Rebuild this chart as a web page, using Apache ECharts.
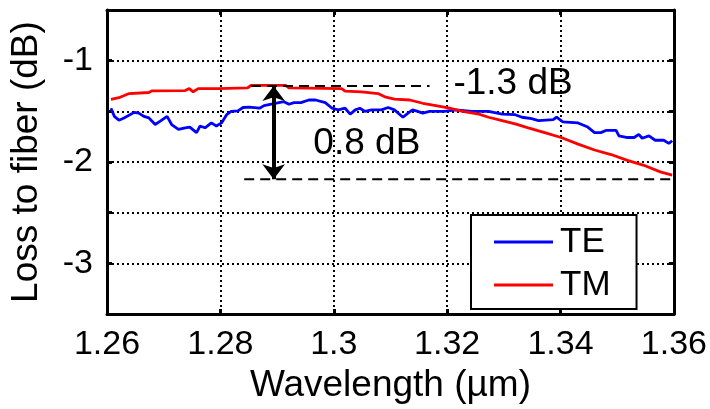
<!DOCTYPE html>
<html><head><meta charset="utf-8">
<script src="https://cdn.jsdelivr.net/npm/echarts@6/dist/echarts.min.js"></script>
<style>html,body{margin:0;padding:0;background:#fff}#c{width:710px;height:409px}</style>
</head><body><div id="c"></div>
<script>
var xTicks = [1.26, 1.28, 1.30, 1.32, 1.34, 1.36];
var yTickLabels = [-1, -2, -3];
var teWavelength = [1.2607,1.2613,1.2621,1.2630,1.2648,1.2656,1.2665,1.2674,1.2685,1.2694,1.2706,1.2714,1.2726,1.2738,1.2746,1.2758,1.2764,1.2773,1.2784,1.2793,1.2802,1.2811,1.2819,1.2831,1.2840,1.2851,1.2869,1.2877,1.2892,1.2912,1.2921,1.2930,1.2942,1.2956,1.2968,1.2985,1.2997,1.3008,1.3020,1.3029,1.3038,1.3046,1.3055,1.3067,1.3084,1.3096,1.3107,1.3122,1.3131,1.3139,1.3148,1.3157,1.3169,1.3195,1.3215,1.3244,1.3273,1.3297,1.3320,1.3332,1.3349,1.3361,1.3387,1.3393,1.3404,1.3431,1.3448,1.3460,1.3471,1.3480,1.3498,1.3503,1.3518,1.3530,1.3538,1.3544,1.3556,1.3567,1.3582,1.3591,1.3597];
var teLoss = [-1.469,-1.549,-1.587,-1.565,-1.510,-1.517,-1.549,-1.565,-1.630,-1.597,-1.549,-1.630,-1.678,-1.662,-1.655,-1.710,-1.645,-1.662,-1.614,-1.645,-1.614,-1.533,-1.500,-1.495,-1.462,-1.459,-1.469,-1.443,-1.427,-1.404,-1.430,-1.414,-1.414,-1.388,-1.388,-1.414,-1.469,-1.485,-1.469,-1.527,-1.485,-1.469,-1.500,-1.485,-1.485,-1.462,-1.485,-1.558,-1.517,-1.485,-1.500,-1.517,-1.500,-1.500,-1.485,-1.500,-1.500,-1.527,-1.533,-1.558,-1.572,-1.591,-1.582,-1.558,-1.604,-1.614,-1.655,-1.710,-1.710,-1.688,-1.688,-1.742,-1.758,-1.758,-1.727,-1.765,-1.742,-1.785,-1.785,-1.816,-1.790];
var tmWavelength = [1.2607,1.2621,1.2639,1.2674,1.2679,1.2738,1.2745,1.2752,1.2761,1.2796,1.2848,1.2854,1.2915,1.2921,1.3014,1.3020,1.3049,1.3078,1.3090,1.3107,1.3134,1.3157,1.3180,1.3204,1.3227,1.3256,1.3273,1.3297,1.3320,1.3343,1.3372,1.3401,1.3431,1.3460,1.3489,1.3518,1.3547,1.3576,1.3597];
var tmLoss = [-1.382,-1.365,-1.324,-1.314,-1.298,-1.295,-1.275,-1.307,-1.275,-1.275,-1.269,-1.243,-1.243,-1.269,-1.275,-1.301,-1.307,-1.324,-1.356,-1.379,-1.388,-1.420,-1.443,-1.469,-1.500,-1.527,-1.558,-1.591,-1.623,-1.662,-1.710,-1.758,-1.823,-1.881,-1.926,-1.984,-2.032,-2.097,-2.128];
var peakLevel = -1.25;
var peakRange = [1.2854, 1.3169];
var minLevel = -2.17;
var minRange = [1.2842, 1.36];
var arrowX = 1.2894;
var peakText = '-1.3 dB';
var peakTextPos = [1.3211, -1.225];
var diffText = '0.8 dB';
var diffTextPos = [1.2964, -1.82];

var FONT = "'Liberation Sans', Arial, sans-serif";
function zip(a, b) { return a.map(function (v, i) { return [v, b[i]]; }); }
var chart = echarts.init(document.getElementById('c'), null, {renderer: 'canvas'});
var gridLine = {show: true, lineStyle: {color: '#000', width: 2, type: [2, 3]}};
var axisLineStyle = {show: true, onZero: false, lineStyle: {color: '#000', width: 3}};
var tick = {show: true, inside: true, length: 5, lineStyle: {color: '#000', width: 3}};
chart.setOption({
  animation: false,
  grid: {left: 104.5, right: 33.5, top: 10, bottom: 91.5, containLabel: false},
  xAxis: [{
    type: 'value', min: xTicks[0], max: xTicks[xTicks.length - 1], interval: 0.02,
    name: 'Wavelength (µm)', nameLocation: 'middle', nameGap: 45,
    nameTextStyle: {color: '#000', fontSize: 37, fontFamily: FONT},
    axisLine: axisLineStyle, axisTick: tick, splitLine: gridLine,
    axisLabel: {color: '#000', fontSize: 34, fontFamily: FONT, margin: 14,
      formatter: function (v) { return String(parseFloat(v.toFixed(2))); }}
  }, {
    type: 'value', position: 'top', min: xTicks[0], max: xTicks[xTicks.length - 1], interval: 0.02,
    axisLine: axisLineStyle, axisTick: tick, splitLine: {show: false}, axisLabel: {show: false}
  }],
  yAxis: [{
    type: 'value', min: -3.5, max: -0.5, interval: 0.5,
    name: 'Loss to fiber (dB)', nameLocation: 'middle', nameGap: 62,
    nameTextStyle: {color: '#000', fontSize: 37, fontFamily: FONT},
    axisLine: axisLineStyle, axisTick: tick, splitLine: gridLine,
    axisLabel: {color: '#000', fontSize: 34, fontFamily: FONT, margin: 14,
      formatter: function (v) { return yTickLabels.indexOf(Math.round(v * 100) / 100) >= 0 ? String(v) : ''; }}
  }, {
    type: 'value', position: 'right', min: -3.5, max: -0.5, interval: 0.5,
    axisLine: axisLineStyle, axisTick: tick, splitLine: {show: false}, axisLabel: {show: false}
  }],
  legend: {
    data: ['TE', 'TM'], orient: 'vertical', left: 471, top: 215,
    backgroundColor: '#fff', borderColor: '#000', borderWidth: 2,
    padding: [7, 26, 4, 23], itemWidth: 59, itemHeight: 3, itemGap: 3, icon: 'rect',
    textStyle: {color: '#000', fontSize: 35, fontFamily: FONT, lineHeight: 40, padding: [0, 0, 0, 2]}
  },
  series: [{
    name: 'TE', type: 'line', data: zip(teWavelength, teLoss), symbol: 'none',
    lineStyle: {color: '#0000ff', width: 2.8}, itemStyle: {color: '#0000ff'}, z: 3
  }, {
    name: 'TM', type: 'line', data: zip(tmWavelength, tmLoss), symbol: 'none',
    lineStyle: {color: '#ff0000', width: 2.8}, itemStyle: {color: '#ff0000'}, z: 4
  }, {
    name: 'peak', type: 'line', data: [[peakRange[0], peakLevel], [peakRange[1], peakLevel]], symbol: 'none',
    lineStyle: {color: '#000', width: 2, type: [10, 6]}, z: 5
  }, {
    name: 'min', type: 'line', data: [[minRange[0], minLevel], [minRange[1], minLevel]], symbol: 'none',
    lineStyle: {color: '#000', width: 2, type: [10, 6]}, z: 5,
    markLine: {
      silent: true, symbol: ['arrow', 'arrow'], symbolSize: [17, 15],
      lineStyle: {color: '#000', width: 4, type: 'solid'}, label: {show: false},
      data: [[{coord: [arrowX, peakLevel]}, {coord: [arrowX, minLevel]}]]
    },
    markPoint: {
      silent: true, symbol: 'circle', symbolSize: 0,
      label: {show: true, position: 'right', distance: 0, color: '#000', fontSize: 37, fontFamily: FONT,
        formatter: function (p) { return p.name; }},
      data: [{name: peakText, coord: peakTextPos}, {name: diffText, coord: diffTextPos}]
    }
  }]
});
</script></body></html>
